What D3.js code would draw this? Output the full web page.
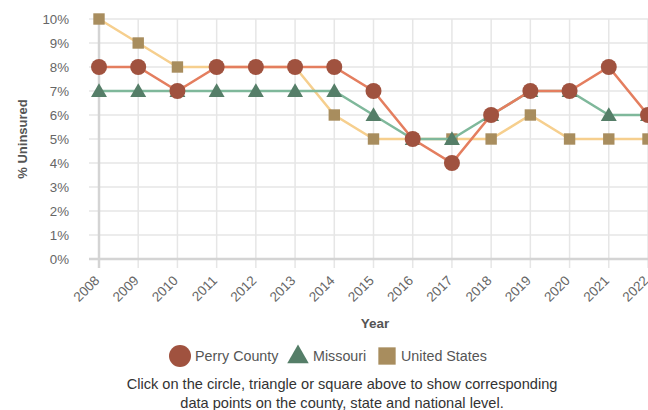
<!DOCTYPE html>
<html><head><meta charset="utf-8">
<script src="https://cdn.jsdelivr.net/npm/d3@7"></script>
<style>
html,body{margin:0;padding:0;background:#fff;overflow:hidden;}
svg{display:block;font-family:"Liberation Sans",Arial,sans-serif;}
</style></head>
<body>
<svg id="c" width="648" height="410"></svg>
<script>
const years = [2008,2009,2010,2011,2012,2013,2014,2015,2016,2017,2018,2019,2020,2021,2022];
const perryCounty = [8,8,7,8,8,8,8,7,5,4,6,7,7,8,6];
const missouri    = [7,7,7,7,7,7,7,6,5,5,6,7,7,6,6];
const unitedStates= [10,9,8,8,8,8,6,5,5,5,5,6,5,5,5];
const yTicks = [0,1,2,3,4,5,6,7,8,9,10];
const seriesNames = ["Perry County","Missouri","United States"];
const caption = ["Click on the circle, triangle or square above to show corresponding",
                 "data points on the county, state and national level."];

const svg = d3.select("#c");
const x = d3.scaleLinear().domain([2008,2022]).range([99,648]);
const y = d3.scaleLinear().domain([0,10]).range([259,19]);

// grid
const g = svg.append("g");
g.selectAll(".hg").data(yTicks).join("line")
  .attr("x1",89).attr("x2",648).attr("y1",d=>y(d)).attr("y2",d=>y(d))
  .attr("stroke","#e6e6e6").attr("stroke-width",1.5);
g.selectAll(".vg").data(years).join("line")
  .attr("x1",d=>x(d)).attr("x2",d=>x(d)).attr("y1",19).attr("y2",268)
  .attr("stroke","#e6e6e6").attr("stroke-width",1.5);
// axes lines
g.append("line").attr("x1",99).attr("x2",99).attr("y1",19).attr("y2",268).attr("stroke","#d4d4d4").attr("stroke-width",2.5);
g.append("line").attr("x1",89).attr("x2",648).attr("y1",259).attr("y2",259).attr("stroke","#d4d4d4").attr("stroke-width",2.5);

// y tick labels
g.selectAll(".yl").data(yTicks).join("text")
  .attr("x",69).attr("y",d=>y(d)).attr("dy","0.35em")
  .attr("text-anchor","end").attr("font-size",13.3).attr("fill","#666")
  .text(d=>d+"%");
// x tick labels
g.selectAll(".xl").data(years).join("text")
  .attr("transform",d=>`translate(${x(d)-2},278) rotate(-45)`)
  .attr("dy","0.35em").attr("text-anchor","end").attr("font-size",13.5).attr("fill","#666")
  .text(d=>d);

// axis titles
svg.append("text").attr("transform","translate(27,139) rotate(-90)")
  .attr("text-anchor","middle").attr("font-size",13).attr("font-weight","bold").attr("fill","#555")
  .text("% Uninsured");
svg.append("text").attr("x",375).attr("y",328)
  .attr("text-anchor","middle").attr("font-size",13.5).attr("font-weight","bold").attr("fill","#555")
  .text("Year");

const line = d3.line().x((d,i)=>x(years[i])).y(d=>y(d));
const series = [
  {name:seriesNames[2], data:unitedStates, line:"#f6cf8e", fill:"#a88d5e", shape:"square"},
  {name:seriesNames[1], data:missouri, line:"#7fb89b", fill:"#557e68", shape:"triangle"},
  {name:seriesNames[0], data:perryCounty, line:"#e47e5f", fill:"#a0523f", shape:"circle"}
];
const sym = {
  circle: d3.symbol().type(d3.symbolCircle).size(Math.PI*8*8),
  triangle: d3.symbol().type(d3.symbolTriangle).size(110),
  square: d3.symbol().type(d3.symbolSquare).size(130)
};
series.forEach(s=>{
  const sg = svg.append("g");
  sg.append("path").attr("d",line(s.data)).attr("fill","none").attr("stroke",s.line).attr("stroke-width",2.5);
  sg.selectAll("path.m").data(s.data).join("path").attr("class","m")
    .attr("transform",(d,i)=>`translate(${x(years[i])},${y(d)+(s.shape==="triangle"?1.5:0)})`)
    .attr("d",sym[s.shape]()).attr("fill",s.fill);
});

// legend
const lg = svg.append("g");
const legendItems = [
  {name:seriesNames[0], shape:"circle", fill:"#a0523f", cx:180, tx:195},
  {name:seriesNames[1], shape:"triangle", fill:"#557e68", cx:298, tx:313},
  {name:seriesNames[2], shape:"square", fill:"#a88d5e", cx:387, tx:401}
];
const lsym = {
  circle: d3.symbol().type(d3.symbolCircle).size(Math.PI*11*11),
  triangle: d3.symbol().type(d3.symbolTriangle).size(200),
  square: d3.symbol().type(d3.symbolSquare).size(300)
};
lg.selectAll("path").data(legendItems).join("path")
  .attr("transform",d=>`translate(${d.cx},${d.shape==="triangle"?357:356})`)
  .attr("d",d=>lsym[d.shape]()).attr("fill",d=>d.fill);
lg.selectAll("text").data(legendItems).join("text")
  .attr("x",d=>d.tx).attr("y",361).attr("font-size",14.3).attr("fill","#555").text(d=>d.name);

svg.selectAll(".cap").data(caption).join("text")
  .attr("x",342).attr("y",(d,i)=>389+i*19).attr("text-anchor","middle")
  .attr("font-size",14.6).attr("fill","#333").text(d=>d);
</script>
</body></html>
